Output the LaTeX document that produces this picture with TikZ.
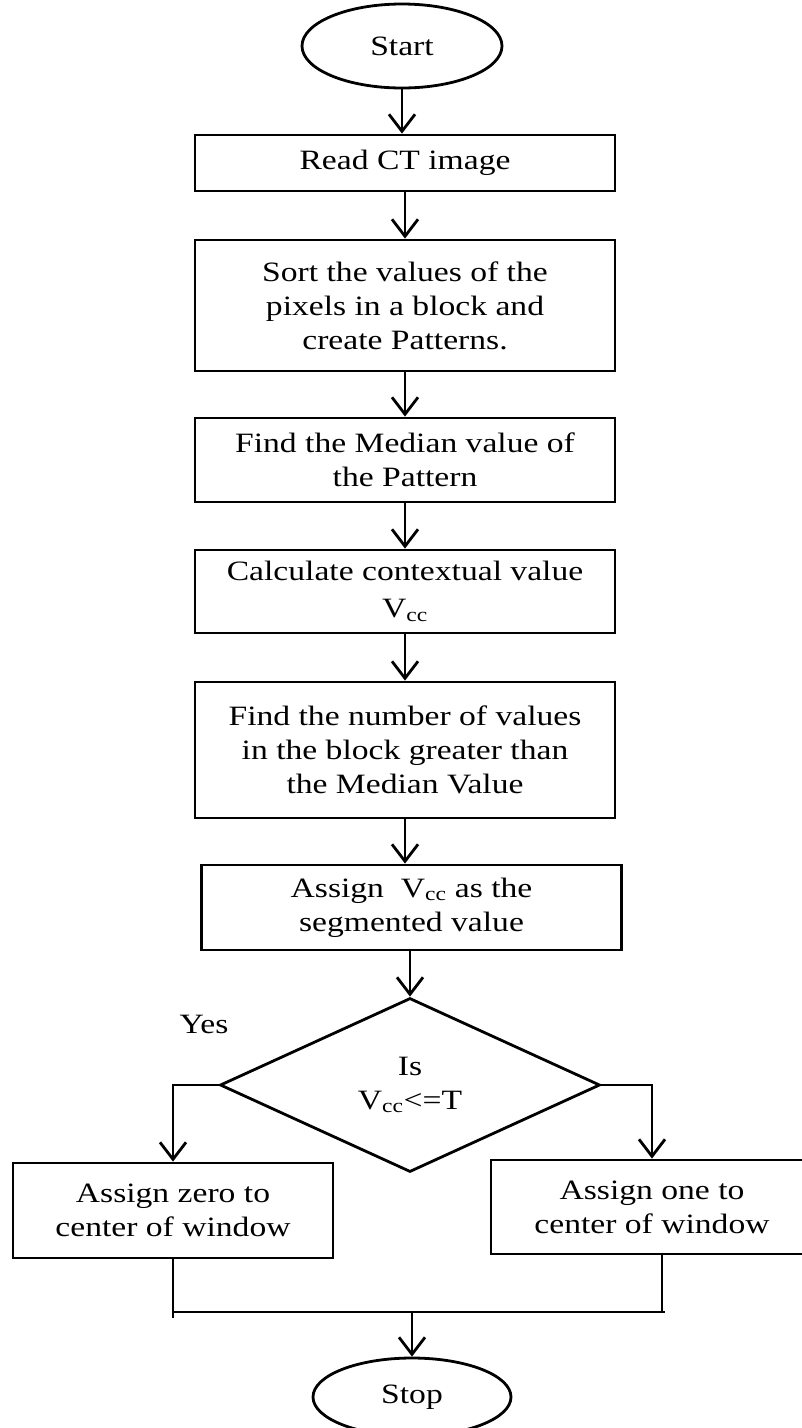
\documentclass[tikz,border=0pt]{standalone}
\usepackage{fontspec}
\setmainfont{Liberation Serif}[FakeStretch=1.2]
\usetikzlibrary{shapes.geometric,arrows.meta}
\tikzset{
  txt/.style={font=\fontsize{28}{34}\selectfont, align=center, inner sep=0pt},
  box/.style={txt, draw, line width=2.8pt, minimum width=420pt},
  term/.style={txt, draw, ellipse, line width=2.8pt},
  decision/.style={txt, draw, diamond, line width=2.8pt, minimum width=380pt, minimum height=174pt},
  link/.style={line width=2.8pt},
  arr/.style={link, -{Straight Barb[length=17pt,width=26pt]}}
}
\begin{document}
\begin{tikzpicture}[x=1pt,y=-1pt]
\useasboundingbox (0,0) rectangle (802,1428);
\node[term, minimum width=200pt, minimum height=84pt] (start) at (402,46) {\raisebox{-5pt}{Start}};
\node[box, minimum height=56pt] (b1) at (405,163) {Read CT image};
\node[box, minimum height=131pt] (b2) at (405,305.5) {Sort the values of the\\pixels in a block and\\create Patterns.};
\node[box, minimum height=84pt] (b3) at (405,460) {Find the Median value of\\the Pattern};
\node[box, minimum height=83pt] (b4) at (405,591.5) {Calculate contextual value\\[3pt]V\textsubscript{cc}};
\node[box, minimum height=136pt] (b5) at (405,750) {Find the number of values\\in the block greater than\\the Median Value};
\node[box, minimum height=85pt] (b6) at (411.5,907.5) {Assign~~V\textsubscript{cc} as the\\segmented value};
\node[decision] (d) at (410,1085) {Is\\V\textsubscript{cc}<=T};
\node[box, minimum width=320pt, minimum height=95pt] (lb) at (173,1210.5) {Assign zero to\\center of window};
\node[box, minimum width=322pt, minimum height=94pt] (rb) at (652,1207) {Assign one to\\center of window};
\node[term, minimum width=198pt, minimum height=78pt] (stop) at (412,1397) {Stop};
\node[txt] (yes) at (204,1024) {Yes};

\coordinate (yj) at (0,1312);
\coordinate (rbs) at (662,1254);
\coordinate (lend) at (173,1318);
\coordinate (jl) at (172,1312);
\coordinate (jr) at (665,1312);

\draw[arr] (start.south) -- (start.south |- b1.north);
\draw[arr] (b1.south) -- (b2.north);
\draw[arr] (b2.south) -- (b3.north);
\draw[arr] (b3.south) -- (b4.north);
\draw[arr] (b4.south) -- (b5.north);
\draw[arr] (b5.south) -- (b5.south |- b6.north);
\draw[arr] (d.north |- b6.south) -- (d.north);
\draw[arr] (d.west) -| (lb.north);
\draw[arr] (d.east) -| (rb.north);
\draw[link] (lb.south) -- (lend);
\draw[link] (rbs) -- (rbs |- yj);
\draw[link] (jl) -- (jr);
\draw[arr] (stop.north |- yj) -- (stop.north);
\end{tikzpicture}
\end{document}
